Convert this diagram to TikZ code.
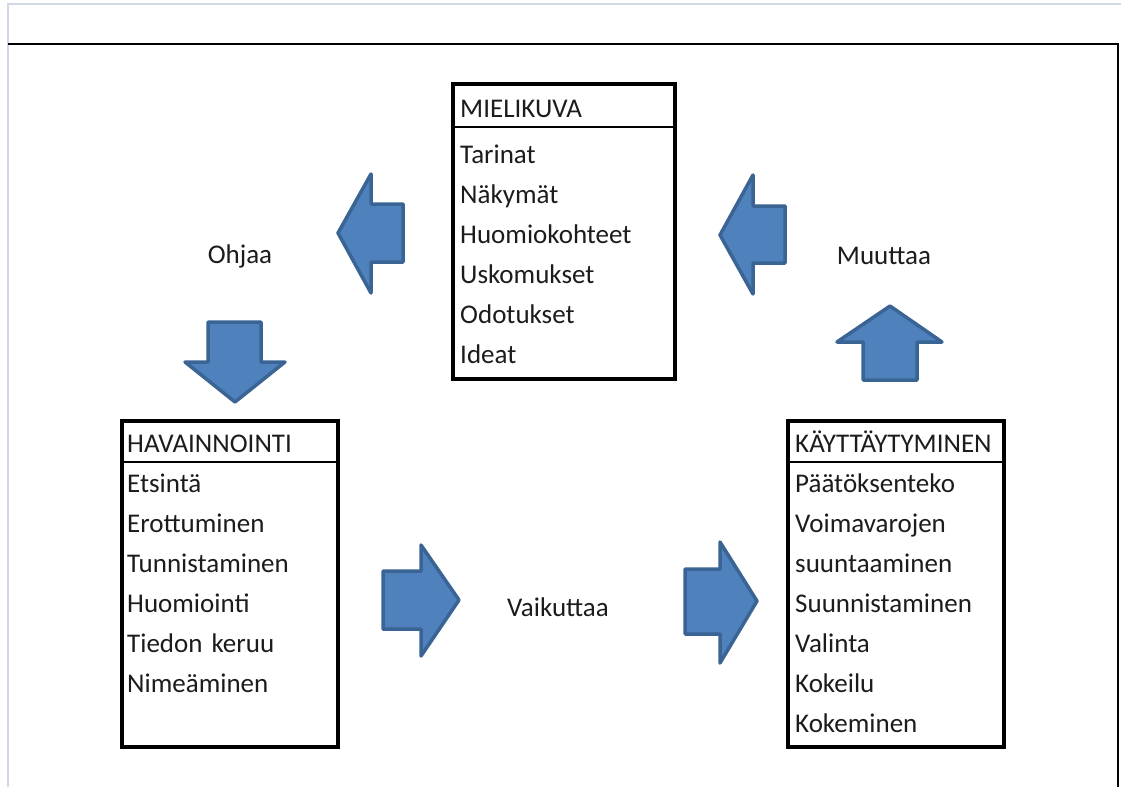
\documentclass[tikz,border=0pt]{standalone}
\usepackage{fontspec}
\setmainfont{Carlito}
\definecolor{arrfill}{HTML}{4F81BD}
\definecolor{arrline}{HTML}{3A6494}
\definecolor{framegray}{HTML}{D3D9E4}
\definecolor{txt}{HTML}{1C1C1C}
\tikzset{
  blockarrow/.style={fill=arrfill, draw=arrline, line width=3.5pt, line join=round},
  listbox/.style={draw=black, line width=3.5pt, fill=white},
  item/.style={anchor=base west, inner sep=0pt, font=\fontsize{27}{31}\selectfont, text=txt},
  lbl/.style={inner sep=0pt, font=\fontsize{27}{31}\selectfont, text=txt}
}
\begin{document}
\begin{tikzpicture}[x=1pt,y=-1pt]
\useasboundingbox (0,0) rectangle (1121,787);
\fill[white] (0,0) rectangle (1121,787);
% outer frames
\draw[framegray, line width=1.5pt] (8,787) -- (8,4) -- (1121,4);
\draw[black, line width=2pt] (8,44) -- (1118,44) -- (1118,787);

% MIELIKUVA box
\draw[listbox] (453,84) rectangle (675,379);
\draw[black, line width=1.2pt] (453,127) -- (675,127);
\node[item] (m0) at (460,117) {MIELIKUVA};
\node[item] (m1) at (460,163) {Tarinat};
\node[item] (m2) at (460,203) {Näkymät};
\node[item] (m3) at (460,243) {Huomiokohteet};
\node[item] (m4) at (460,283) {Uskomukset};
\node[item] (m5) at (460,323) {Odotukset};
\node[item] (m6) at (460,363) {Ideat};

% HAVAINNOINTI box
\draw[listbox] (122,421) rectangle (338,747);
\draw[black, line width=1.2pt] (122,462) -- (338,462);
\node[item] (h0) at (127,452) {HAVAINNOINTI};
\node[item] (h1) at (127,492) {Etsintä};
\node[item] (h2) at (127,532) {Erottuminen};
\node[item] (h3) at (127,572) {Tunnistaminen};
\node[item] (h4) at (127,612) {Huomiointi};
\node[item] (h5) at (127,652) {Tiedon\,\,keruu};
\node[item] (h6) at (127,692) {Nimeäminen};

% KAYTTAYTYMINEN box
\draw[listbox] (788,421) rectangle (1004,747);
\draw[black, line width=1.2pt] (788,462) -- (1004,462);
\node[item] (k0) at (795,452) {KÄYTTÄYTYMINEN};
\node[item] (k1) at (795,492) {Päätöksenteko};
\node[item] (k2) at (795,532) {Voimavarojen};
\node[item] (k3) at (795,572) {suuntaaminen};
\node[item] (k4) at (795,612) {Suunnistaminen};
\node[item] (k5) at (795,652) {Valinta};
\node[item] (k6) at (795,692) {Kokeilu};
\node[item] (k7) at (795,732) {Kokeminen};

% block arrows
\draw[blockarrow] (338,233) -- (371,174) -- (371,204) -- (403,204) -- (403,262) -- (371,262) -- (371,293) -- cycle;
\draw[blockarrow] (720,235) -- (753,175) -- (753,206) -- (785,206) -- (785,263) -- (753,263) -- (753,294) -- cycle;
\draw[blockarrow] (235,402) -- (185,362) -- (208,362) -- (208,322) -- (261,322) -- (261,362) -- (285,362) -- cycle;
\draw[blockarrow] (890,306) -- (942,342) -- (917,342) -- (917,380) -- (863,380) -- (863,342) -- (837,342) -- cycle;
\draw[blockarrow] (459,600) -- (421,545) -- (421,571) -- (383,571) -- (383,629) -- (421,629) -- (421,656) -- cycle;
\draw[blockarrow] (757,601) -- (720,542) -- (720,569) -- (685,569) -- (685,634) -- (720,634) -- (720,663) -- cycle;

% labels
\node[lbl] (ohjaa) at (240,256) {Ohjaa};
\node[lbl] (muuttaa) at (884,256) {Muuttaa};
\node[lbl] (vaikuttaa) at (558,607) {Vaikuttaa};
\end{tikzpicture}
\end{document}
